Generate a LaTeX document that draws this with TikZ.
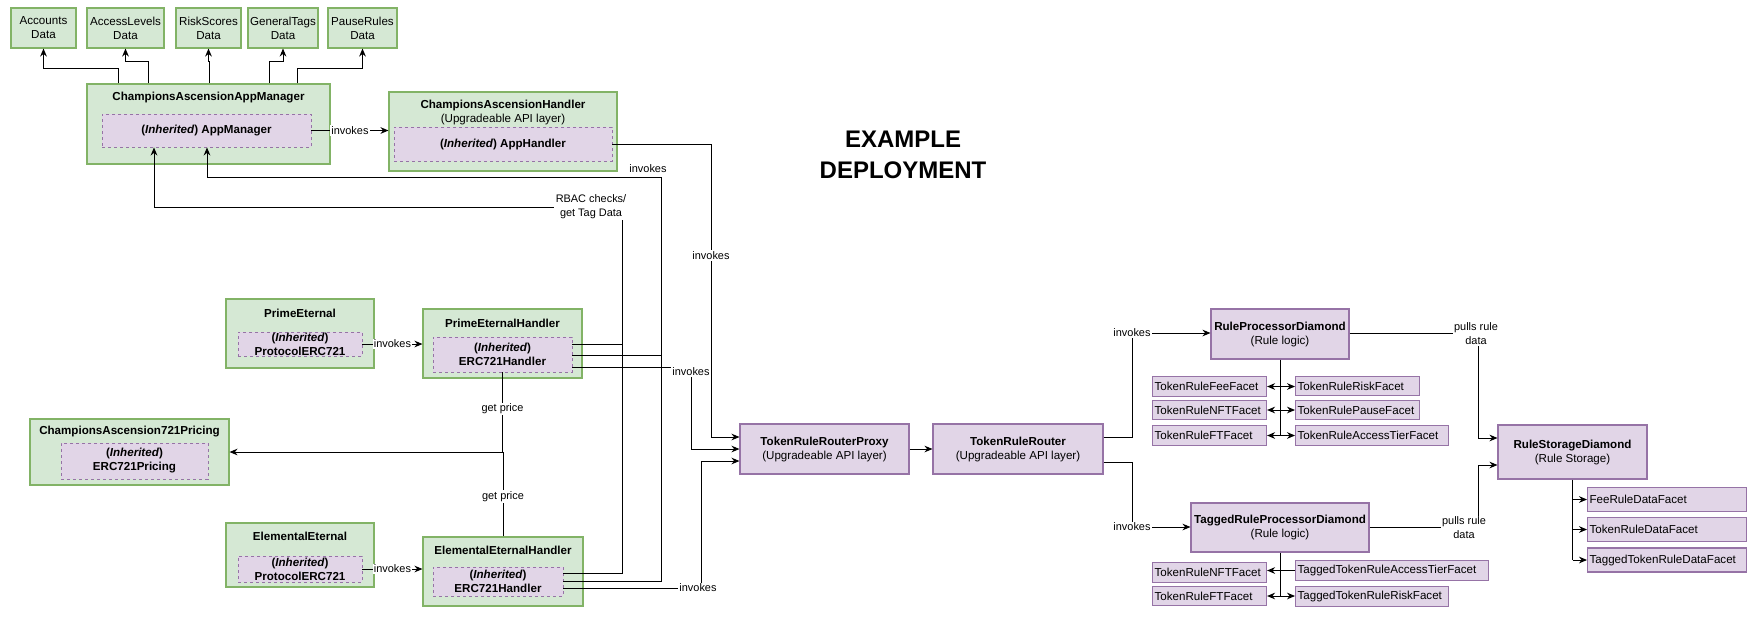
\documentclass[tikz,border=0pt]{standalone}
\usepackage{fontspec}
\setmainfont{Liberation Sans}
\usetikzlibrary{positioning,arrows.meta,calc}
\definecolor{appfill}{HTML}{D5E8D4}
\definecolor{appedge}{HTML}{82B366}
\definecolor{rulefill}{HTML}{E1D5E7}
\definecolor{ruleedge}{HTML}{9673A6}
\newcommand{\boxfont}{\fontsize{8.7}{10.5}\selectfont}
\newcommand{\lblfont}{\fontsize{8.2}{10.5}\selectfont}
\newcommand{\inh}{(\textit{Inherited})}
\tikzset{
  sz/.style 2 args={minimum width=#1*0.75pt,minimum height=#2*0.75pt},
  appbox/.style={draw=appedge,fill=appfill,line width=0.8pt,inner sep=0pt},
  rulebox/.style={draw=ruleedge,fill=rulefill,line width=0.8pt,inner sep=0pt,font=\boxfont,align=center},
  inhbox/.style={draw=ruleedge,fill=rulefill,line width=0.7pt,dash pattern=on 2.5pt off 2pt,inner sep=0pt,font=\boxfont\bfseries,align=center},
  ttl/.style={font=\boxfont,inner sep=0pt,align=center},
  facet/.code={\pgfmathsetmacro\facetw{#1*0.75-3}\tikzset{rulebox,anchor=west,align=left,inner xsep=1.5pt,text width=\facetw pt,minimum height=14.5pt}},
  wire/.style={line width=0.75pt},
  arr/.style={wire,-{Stealth[length=6pt,width=5pt]}},
  dbl/.style={wire,{Stealth[length=6pt,width=5pt]}-{Stealth[length=6pt,width=5pt]}},
  lbl/.style={font=\lblfont,fill=white,inner sep=1pt,align=center},
}
\begin{document}
\begin{tikzpicture}[x=0.75pt,y=-0.75pt]
  \useasboundingbox (0,0) rectangle (1755,626);
  % title
  \node[font=\bfseries\fontsize{18}{23}\selectfont,align=center] (title) at (903,155) {EXAMPLE\\DEPLOYMENT};

  % app manager and its data stores
  \node[appbox,sz={243}{80}] (am) at (208.5,124) {};
  \node[ttl] (amT) at (208.5,98) {\textbf{ChampionsAscensionAppManager}};
  \node[inhbox,sz={209}{33}] (amI) at (206.5,130.5) {\inh{} AppManager};
  \foreach \dname/\dx/\dw/\sx/\ky [count=\di] in {Accounts/43.5/65/118/68,AccessLevels/125.5/77/148/61,
      RiskScores/208.5/65/209/61,GeneralTags/283/70/269/61,PauseRules/362.5/69/297/68} {
    \node[appbox,sz={\dw}{40},font=\boxfont,align=center] (data\di) at (\dx,28) {\dname\\Data};
    \draw[arr] (\sx,0 |- am.north) -- (\sx,\ky) -| (data\di.south);
  }

  % app handler
  \node[appbox,sz={228}{79}] (cah) at (503,131.5) {};
  \node[ttl] (cahT) at (503,112) {\textbf{ChampionsAscensionHandler}\\(Upgradeable API layer)};
  \node[inhbox,sz={218}{34}] (cahI) at (503,144) {\inh{} AppHandler};
  \draw[arr] (amI.east) -- (amI.east -| cah.west) node[lbl,midway] {invokes};

  % prime eternal
  \node[appbox,sz={148}{69}] (pe) at (300,333.5) {};
  \node[ttl] (peT) at (300,313) {\textbf{PrimeEternal}};
  \node[inhbox,sz={124}{24}] (peI) at (300,344) {\inh\\ProtocolERC721};
  \node[appbox,sz={159}{69}] (peh) at (502.5,343.5) {};
  \node[ttl] (pehT) at (502.5,323) {\textbf{PrimeEternalHandler}};
  \node[inhbox,sz={139}{35}] (pehI) at (502.5,354.5) {\inh\\ERC721Handler};
  \draw[arr] (peI.east) -- (peI.east -| peh.west) node[lbl,midway] {invokes};

  % elemental eternal
  \node[appbox,sz={148}{64}] (ee) at (300,555) {};
  \node[ttl] (eeT) at (300,536) {\textbf{ElementalEternal}};
  \node[inhbox,sz={124}{26}] (eeI) at (300,569) {\inh\\ProtocolERC721};
  \node[appbox,sz={160}{69}] (eeh) at (503,571.5) {};
  \node[ttl] (eehT) at (503,550) {\textbf{ElementalEternalHandler}};
  \node[inhbox,sz={130}{29}] (eehI) at (498,581.5) {\inh\\ERC721Handler};
  \draw[arr] (eeI.east) -- (eeI.east -| eeh.west) node[lbl,midway] {invokes};

  % pricing
  \node[appbox,sz={199}{66}] (prc) at (129.5,452) {};
  \node[ttl] (prcT) at (129.5,432) {\textbf{ChampionsAscension721Pricing}};
  \node[inhbox,sz={147}{36}] (prcI) at (134.5,461) {\inh\\ERC721Pricing};
  \draw[arr] (pehI.south) -- node[lbl,pos=0.46] {get price} (pehI.south |- prc.east) -- (prc.east);
  \draw[wire] (eeh.north) -- node[lbl,pos=0.47] {get price} (eeh.north |- prc.east);

  % router side
  \node[rulebox,sz={169}{50}] (prx) at (824.5,449) {\textbf{TokenRuleRouterProxy}\\(Upgradeable API layer)};
  \node[rulebox,sz={170}{50}] (rtr) at (1018,449) {\textbf{TokenRuleRouter}\\(Upgradeable API layer)};
  \draw[arr] (prx) -- (rtr);

  % handler wiring
  \draw[arr] (cahI.east) -- (711,144) -- node[lbl,pos=0.38] {invokes} (711,437) -- (prx.west |- 0,437);
  \draw[arr] (pehI.east |- 0,344) -- (622,344) -- (622,207) -- (154,207) -- (amI.south -| 154,0);
  \draw[wire] (eehI.east |- 0,573) -| (622,344);
  \node[lbl] (rbac) at (591,207) {RBAC checks/\\get Tag Data};
  \draw[arr] (pehI.east |- 0,355) -- (661,355) -- (661,177) -- (207,177) -- (amI.south -| 207,0);
  \draw[wire] (eehI.east |- 0,581) -| (661,355);
  \node[lbl,fill=none] (inv1) at (648,169) {invokes};
  \draw[arr] (pehI.east |- 0,367) -- (691,367) -- (691,449) -- (prx.west);
  \node[lbl] (inv2) at (691,372) {invokes};
  \draw[arr] (eehI.east |- 0,588) -- (701,588) -- (701,461) -- (prx.west |- 0,461);
  \node[lbl] (inv3) at (698,588) {invokes};

  % processors and storage
  \node[rulebox,sz={138}{50}] (rpd) at (1280,334) {\textbf{RuleProcessorDiamond}\\(Rule logic)};
  \node[rulebox,sz={178}{49}] (trpd) at (1280,527.5) {\textbf{TaggedRuleProcessorDiamond}\\(Rule logic)};
  \node[rulebox,sz={149}{54}] (rsd) at (1572.5,452) {\textbf{RuleStorageDiamond}\\(Rule Storage)};
  \draw[arr] (rtr.east |- 0,437) -- (1132,437) -- (1132,333) -- (rpd.west |- 0,333);
  \node[lbl] (inv4) at (1132,333) {invokes};
  \draw[arr] (rtr.east |- 0,462) -- (1132,462) -- (1132,527) -- (trpd.west |- 0,527);
  \node[lbl] (inv5) at (1132,527) {invokes};
  \draw[arr] (rpd.east |- 0,333) -- (1478,333) -- (1478,438) -- (rsd.west |- 0,438);
  \node[lbl] (pull1) at (1476,334) {pulls rule\\data};
  \draw[arr] (trpd.east |- 0,527) -- (1478,527) -- (1478,465) -- (rsd.west |- 0,465);
  \node[lbl] (pull2) at (1464,528) {pulls rule\\data};

  % processor facets
  \foreach \fname/\fw/\fy [count=\fk] in {TokenRuleFeeFacet/114/386.5,TokenRuleNFTFacet/114/410,TokenRuleFTFacet/114/435.5}
    \node[facet=\fw] (pl\fk) at (1152,\fy) {\fname};
  \foreach \fname/\fw/\fy [count=\fk] in {TokenRuleRiskFacet/124/386,TokenRulePauseFacet/124/410,TokenRuleAccessTierFacet/153/435.5}
    \node[facet=\fw] (pr\fk) at (1295,\fy) {\fname};
  \draw[wire] (rpd.south) -- (rpd.south |- pl3.east);
  \foreach \fk in {1,2,3}
    \draw[dbl] (pl\fk.east) -- (pl\fk.east -| pr\fk.west);

  % tagged processor facets
  \foreach \fname/\fy [count=\fk] in {TokenRuleNFTFacet/572.5,TokenRuleFTFacet/596}
    \node[facet=114] (tl\fk) at (1152,\fy) {\fname};
  \foreach \fname/\fw/\fy [count=\fk] in {TaggedTokenRuleAccessTierFacet/193/570.5,TaggedTokenRuleRiskFacet/153/596.5}
    \node[facet=\fw] (tr\fk) at (1295,\fy) {\fname};
  \draw[wire] (trpd.south) -- (trpd.south |- tl2.east);
  \draw[arr] (tr1.west) -- (tr1.west -| tl1.east);
  \draw[dbl] (tl2.east) -- (tl2.east -| tr2.west);

  % storage facets
  \foreach \fname/\fy [count=\fk] in {FeeRuleDataFacet/499.5,TokenRuleDataFacet/529.5,TaggedTokenRuleDataFacet/560}
    \node[facet=159,minimum height=18pt] (sd\fk) at (1587,\fy) {\fname};
  \draw[wire] (rsd.south) -- (rsd.south |- sd3.west);
  \foreach \fk in {1,2,3}
    \draw[arr] (rsd.south |- sd\fk.west) -- (sd\fk.west);
\end{tikzpicture}
\end{document}
